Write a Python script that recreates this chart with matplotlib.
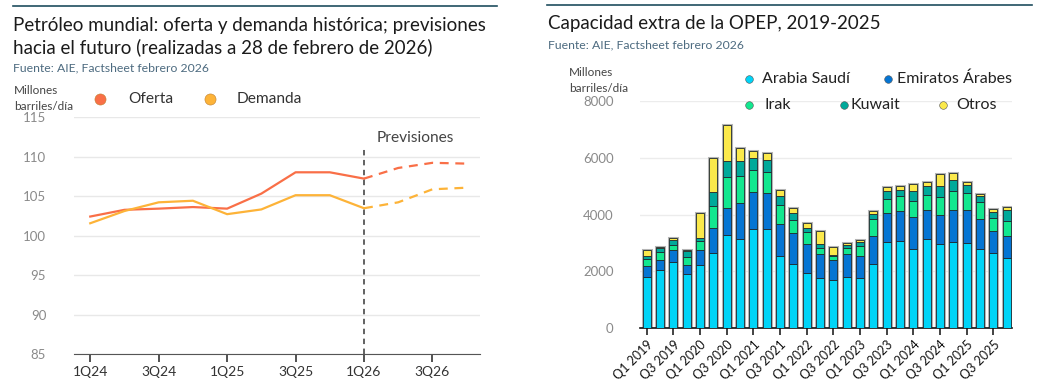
import matplotlib
matplotlib.use("Agg")
import matplotlib.pyplot as plt
from matplotlib.lines import Line2D
import numpy as np

W, H = 1037, 392

# --- left chart data (millones barriles/dia) ---
quarters = ["1Q24", "2Q24", "3Q24", "4Q24", "1Q25", "2Q25", "3Q25", "4Q25",
            "1Q26", "2Q26", "3Q26", "4Q26"]
oferta = [102.4, 103.25, 103.4, 103.6, 103.4, 105.3, 108.0, 108.0, 107.2, 108.55, 109.2, 109.1]
demanda = [101.55, 103.1, 104.2, 104.4, 102.7, 103.3, 105.1, 105.1, 103.45, 104.2, 105.85, 106.05]
forecast_start = 8  # index of 1Q26

# --- right chart data (miles barriles/dia) ---
periods = [f"Q{q} {y}" for y in range(2019, 2026) for q in (1, 2, 3, 4)]
arabia = [1800, 2050, 2340, 1910, 2230, 2650, 3290, 3150, 3490, 3490, 2530, 2270, 1960, 1770,
          1690, 1820, 1780, 2260, 3040, 3080, 2800, 3150, 2950, 3040, 3010, 2800, 2660, 2480]
emiratos = [400, 370, 410, 315, 520, 880, 930, 1270, 1310, 1270, 1150, 1090, 990, 830,
            700, 800, 770, 980, 1010, 1050, 1120, 1010, 1050, 1120, 1150, 1030, 760, 780]
irak = [230, 260, 175, 290, 330, 770, 1120, 945, 780, 745, 650, 465, 430, 220,
        170, 200, 350, 620, 510, 510, 550, 540, 620, 680, 600, 600, 470, 525]
kuwait = [130, 130, 175, 210, 100, 500, 550, 535, 400, 410, 315, 245, 150, 130,
          20, 115, 140, 160, 260, 245, 360, 300, 385, 370, 280, 210, 220, 395]
otros = [200, 35, 80, 35, 875, 1200, 1260, 445, 245, 245, 210, 165, 190, 490,
         270, 60, 70, 105, 150, 120, 245, 150, 430, 260, 115, 80, 80, 80]

series = [("Arabia Saudí", arabia, "#00d4f7"),
          ("Emiratos Árabes", emiratos, "#0575d3"),
          ("Irak", irak, "#12e78f"),
          ("Kuwait", kuwait, "#00a99a"),
          ("Otros", otros, "#fbe94b")]

FONT = "Lato"
plt.rcParams["font.family"] = [FONT, "DejaVu Sans"]

fig = plt.figure(figsize=(W / 100, H / 100), dpi=100)


def fx(x):
    return x / W


def fy(y):
    return 1 - y / H


def add_ax(x0, y0, x1, y1):
    return fig.add_axes([fx(x0), fy(y1), fx(x1) - fx(x0), fy(y0) - fy(y1)])


title_c = "#1b1b1b"
src_c = "#4d6b80"
rule_c = "#1f4e5f"
tick_c = "#8a8a8a"

# ---------------- left panel ----------------
fig.add_artist(Line2D([fx(13), fx(497)], [fy(6), fy(6)], color=rule_c, lw=1.2))
fig.text(fx(13), fy(26), "Petróleo mundial: oferta y demanda histórica; previsiones",
         fontsize=13.5, color=title_c, va="center")
fig.text(fx(13), fy(47), "hacia el futuro (realizadas a 28 de febrero de 2026)",
         fontsize=13.5, color=title_c, va="center")
fig.text(fx(13), fy(68), "Fuente: AIE, Factsheet febrero 2026", fontsize=8.8, color=src_c, va="center")
fig.text(fx(14), fy(90), "Millones", fontsize=8.5, color="#444444", va="center")
fig.text(fx(14), fy(106), "barriles/día", fontsize=8.5, color="#444444", va="center")

ax1 = add_ax(74, 117, 480, 354)
x = np.arange(len(quarters))
ofc, dmc = "#f96f47", "#fdb338"
ax1.plot(x[:forecast_start + 1], oferta[:forecast_start + 1], color=ofc, lw=1.6)
ax1.plot(x[forecast_start:], oferta[forecast_start:], color=ofc, lw=1.6, ls=(0, (4, 3)))
ax1.plot(x[:forecast_start + 1], demanda[:forecast_start + 1], color=dmc, lw=1.6)
ax1.plot(x[forecast_start:], demanda[forecast_start:], color=dmc, lw=1.6, ls=(0, (4, 3)))
ax1.axvline(forecast_start, ymin=0, ymax=(115 - 85 - (148 - 117) / 8) / 30,
            color="#555555", lw=1.3, ls=(0, (3, 2.5)))
ax1.text(forecast_start + 0.38, 112.3, "Previsiones", fontsize=11.2, color="#444444", va="center")
ax1.set_xlim(-0.475, 11.39)
ax1.set_ylim(85, 115)
ax1.set_yticks([85, 90, 95, 100, 105, 110, 115])
ax1.set_xticks(x[::2])
ax1.set_xticklabels(quarters[::2])
ax1.grid(axis="y", color="#e8e8e8", lw=1)
ax1.set_axisbelow(True)
for s in ("top", "right", "left"):
    ax1.spines[s].set_visible(False)
ax1.spines["bottom"].set_color("#555555")
ax1.tick_params(axis="y", length=0, pad=20, labelsize=9.5, labelcolor=tick_c)
ax1.tick_params(axis="x", length=6, width=1.3, color="#444444", pad=3, labelsize=10,
                labelcolor="#333333")

for mx, tx, lab, c in [(100, 128, "Oferta", ofc), (210, 237, "Demanda", dmc)]:
    fig.add_artist(Line2D([fx(mx)], [fy(99)], marker="o", ms=8, color=c, mec="#c08030", mew=0.4))
    fig.text(fx(tx), fy(99), lab, fontsize=11.2, color="#333333", va="center")

# ---------------- right panel ----------------
fig.add_artist(Line2D([fx(547), fx(1032)], [fy(5), fy(5)], color=rule_c, lw=1.2))
fig.text(fx(548), fy(24), "Capacidad extra de la OPEP, 2019-2025", fontsize=13.5, color=title_c, va="center")
fig.text(fx(548), fy(45), "Fuente: AIE, Factsheet febrero 2026", fontsize=8.8, color=src_c, va="center")
fig.text(fx(569), fy(73), "Millones", fontsize=8.5, color="#444444", va="center")
fig.text(fx(569), fy(88), "barriles/día", fontsize=8.5, color="#444444", va="center")

ax2 = add_ax(640, 101, 1012, 328.3)
xb = np.arange(len(periods))
totals = np.sum([s[1] for s in series], axis=0)
ax2.bar(xb, totals, width=0.58, color="none", edgecolor="#b5b5b5", lw=2.2, zorder=2)
bottom = np.zeros(len(periods))
for name, vals, col in series:
    ax2.bar(xb, vals, bottom=bottom, width=0.58, color=col, edgecolor="#1e2a30", lw=0.6, zorder=3)
    bottom += np.array(vals)
ax2.set_xlim(-0.5, 27.4)
ax2.set_ylim(0, 8000)
ax2.set_yticks([0, 2000, 4000, 6000, 8000])
ax2.set_xticks(xb[::2])
ax2.set_xticklabels(periods[::2], rotation=45, ha="right", rotation_mode="anchor")
ax2.grid(axis="y", color="#ececec", lw=1)
ax2.set_axisbelow(True)
for s in ("top", "right", "left"):
    ax2.spines[s].set_visible(False)
ax2.spines["bottom"].set_color("#111111")
ax2.spines["bottom"].set_linewidth(1.2)
ax2.tick_params(axis="y", length=0, pad=19, labelsize=9.5, labelcolor=tick_c)
ax2.tick_params(axis="x", length=5, width=1.2, color="#222222", pad=2, labelsize=9,
                labelcolor="#111111")

legend_pos = [(749, 79, 762), (888, 79, 897), (749, 105, 765), (844, 105, 851), (943, 105, 956)]
for (name, vals, col), (mx, my, tx) in zip(series, legend_pos):
    fig.add_artist(Line2D([fx(mx)], [fy(my)], marker="o", ms=5.5, color=col, mec="#555555", mew=0.4))
    fig.text(fx(tx), fy(my), name, fontsize=11.5, color="#222222", va="center")

fig.savefig("out.png", dpi=100)
